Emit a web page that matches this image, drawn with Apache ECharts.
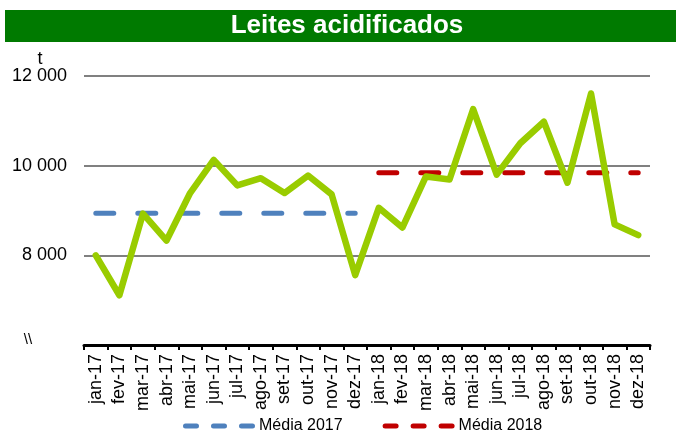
<!DOCTYPE html>
<html>
<head>
<meta charset="utf-8">
<script src="https://cdn.jsdelivr.net/npm/echarts@6/dist/echarts.min.js"></script>
<style>
html,body{margin:0;padding:0;background:#fff;}
#chart{width:676px;height:432px;}
</style>
</head>
<body>
<div id="chart"></div>
<script>
// meses
var months = ['jan-17','fev-17','mar-17','abr-17','mai-17','jun-17','jul-17','ago-17','set-17','out-17','nov-17','dez-17',
              'jan-18','fev-18','mar-18','abr-18','mai-18','jun-18','jul-18','ago-18','set-18','out-18','nov-18','dez-18'];
// toneladas por mes
var tons = [8000,7110,8930,8330,9390,10130,9560,9720,9390,9780,9360,7560,
            9060,8620,9760,9690,11260,9800,10500,10980,9620,11610,8690,8450];
var media2017 = 8940;
var media2018 = 9840;
var yTicks = [6000,8000,10000,12000];

function meanSeries(val, from, to){
    var arr = []
    for (var i=0;i<months.length;i++){
        arr.push(i>=from && i<=to ? val : null)
    }
    return arr
}

function fmt(v){
    if (v==yTicks[0]) return ''
    return String(v).replace(/\B(?=(\d{3})+(?!\d))/g,' ')
}

// icone da legenda: tres tracos
var dashIcon = 'path://M2.5,0h11a2.5,2.5 0 0 1 0,5h-11a2.5,2.5 0 0 1 0,-5z' +
               'M30.5,0h11a2.5,2.5 0 0 1 0,5h-11a2.5,2.5 0 0 1 0,-5z' +
               'M58.5,0h11a2.5,2.5 0 0 1 0,5h-11a2.5,2.5 0 0 1 0,-5z';

var chartDom = document.getElementById('chart');
var myChart = echarts.init(chartDom);
var option;
option = {
    animation: false,
    textStyle: { fontFamily: 'Liberation Sans, Arial, sans-serif' },
    graphic: [
        { type:'rect', shape:{x:5,y:10,width:671,height:32}, style:{fill:'#007A00'} },
        { type:'text', x:347, y:26, style:{text:'Leites acidificados', fill:'#fff', font:'bold 26px "Liberation Sans", Arial', align:'center', verticalAlign:'middle'} },
        { type:'text', x:40, y:59, style:{text:'t', fill:'#000', font:'18px "Liberation Sans", Arial', align:'center', verticalAlign:'middle'} },
        { type:'text', x:28, y:340, style:{text:'\\\\', fill:'#000', font:'15px "Liberation Sans", Arial', align:'center', verticalAlign:'middle'} }
    ],
    legend: {
        top: 418,
        left: 183,
        padding: 0,
        icon: dashIcon,
        itemWidth: 72,
        itemHeight: 5,
        itemGap: 40,
        itemStyle: { borderWidth: 0 },
        textStyle: { fontSize: 16, color:'#000', fontFamily:'Liberation Sans, Arial', padding:[0,0,0,-1] },
        data: ['Média 2017','Média 2018']
    },
    grid: { left: 84, right: 26, top: 76, bottom: 87 },
    xAxis: {
        type: 'category',
        data: months,
        boundaryGap: true,
        axisLine: { lineStyle: { color:'#000', width:3 } },
        axisTick: { show:true, length:5, lineStyle:{ color:'#000', width:2 } },
        axisLabel: { rotate: 90, color:'#000', fontSize: 18, margin: 9, interval: 0 }
    },
    yAxis: {
        type: 'value',
        min: 6000,
        max: 12000,
        interval: 2000,
        axisLine: { show:false },
        axisTick: { show:false },
        axisLabel: { color:'#000', fontSize: 18, margin: 17, formatter: fmt },
        splitLine: { lineStyle: { color:'#808080', width:2 } }
    },
    series: [
        {
            name: 'Leites acidificados',
            type: 'line',
            data: tons,
            symbol: 'none',
            lineStyle: { color:'#99CC00', width:6.5, join:'round', cap:'round' },
            itemStyle: { color:'#99CC00' },
            z: 3
        },
        {
            name: 'Média 2017',
            type: 'line',
            data: meanSeries(media2017,0,11),
            symbol: 'none',
            lineStyle: { color:'#4F81BD', width:5, type:[18,24], cap:'round' },
            itemStyle: { color:'#4F81BD' },
            z: 2
        },
        {
            name: 'Média 2018',
            type: 'line',
            data: meanSeries(media2018,12,23),
            symbol: 'none',
            lineStyle: { color:'#C00000', width:5, type:[18,24], cap:'round' },
            itemStyle: { color:'#C00000' },
            z: 2
        }
    ]
}
option && myChart.setOption(option);
</script>
</body>
</html>
